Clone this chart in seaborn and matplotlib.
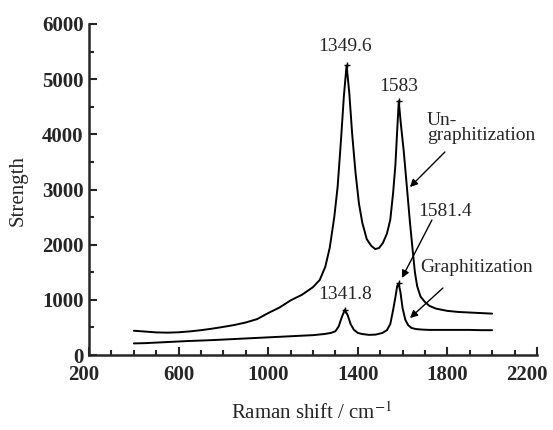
import pandas as pd
import matplotlib
matplotlib.use("Agg")
import matplotlib.pyplot as plt
import matplotlib.transforms as mtransforms
import seaborn as sns
from matplotlib.ticker import MultipleLocator, FixedLocator

# === Data ===
ungraph_x = [400, 450, 500, 550, 600, 650, 700, 750, 800, 850, 900, 950, 1000, 1050,
             1100, 1150, 1200, 1230, 1255, 1275, 1295, 1310, 1325, 1338, 1350, 1362,
             1375, 1390, 1405, 1420, 1440, 1460, 1478, 1495, 1512, 1530, 1545, 1558,
             1568, 1577, 1583, 1592, 1605, 1618, 1633, 1645, 1655, 1665, 1680, 1700,
             1720, 1750, 1800, 1850, 1900, 1950, 2000]
ungraph_y = [440, 425, 410, 405, 412, 428, 450, 478, 510, 545, 590, 650, 760, 860,
             990, 1090, 1230, 1360, 1600, 1950, 2500, 3050, 3900, 4700, 5250, 4750,
             4000, 3300, 2750, 2400, 2100, 1980, 1920, 1940, 2030, 2200, 2450, 2950,
             3450, 4150, 4600, 4200, 3700, 3100, 2400, 1900, 1500, 1250, 1060, 960,
             890, 840, 800, 780, 770, 760, 750]

graph_x = [400, 450, 500, 550, 600, 650, 700, 750, 800, 850, 900, 950, 1000, 1050,
           1100, 1150, 1200, 1250, 1280, 1300, 1315, 1328, 1342, 1355, 1368, 1382,
           1400, 1420, 1450, 1480, 1510, 1530, 1545, 1557, 1568, 1576, 1582, 1590,
           1600, 1612, 1625, 1640, 1660, 1690, 1720, 1760, 1800, 1850, 1900, 1950, 2000]
graph_y = [210, 215, 225, 235, 245, 255, 262, 270, 280, 290, 300, 310, 320, 330,
           340, 350, 360, 380, 400, 430, 520, 680, 820, 720, 560, 460,
           400, 380, 365, 370, 400, 450, 560, 800, 1050, 1250, 1300, 1150,
           850, 640, 540, 490, 470, 460, 455, 455, 455, 455, 455, 450, 450]

peak_x = [1350, 1583, 1342, 1582]
peak_y = [5250, 4600, 820, 1300]
peak_labels = ["1349.6", "1583", "1341.8", "1581.4"]

df = pd.concat([
    pd.DataFrame({"shift": ungraph_x, "strength": ungraph_y, "sample": "Un-graphitization"}),
    pd.DataFrame({"shift": graph_x, "strength": graph_y, "sample": "Graphitization"}),
])

# === Style ===
sns.set_style("ticks")
plt.rcParams["font.family"] = ["Liberation Serif", "DejaVu Serif"]
plt.rcParams["mathtext.fontset"] = "stix"

fig = plt.figure(figsize=(5.53, 4.30), dpi=100)
ax = fig.add_axes([0.161, 0.1744, 0.810, 0.7698])

sns.lineplot(data=df, x="shift", y="strength", hue="sample", units="sample",
             estimator=None, palette=["black", "black"], linewidth=1.4,
             legend=False, ax=ax)
ax.scatter(peak_x, peak_y, marker="+", s=25, color="black", linewidths=1, zorder=3)

ax.set_xlim(200, 2200)
ax.set_ylim(0, 6000)
ax.xaxis.set_major_locator(FixedLocator([200, 600, 1000, 1400, 1800, 2200]))
ax.xaxis.set_minor_locator(MultipleLocator(100))
ax.yaxis.set_major_locator(MultipleLocator(1000))
ax.yaxis.set_minor_locator(MultipleLocator(500))
ax.tick_params(which="major", direction="in", length=6, width=1.5, labelsize=15, pad=4)
ax.tick_params(axis="x", which="major", pad=7)
ax.tick_params(which="minor", direction="in", length=3.5, width=1.5)

sns.despine(ax=ax)
for side in ["left", "bottom"]:
    ax.spines[side].set_linewidth(1.8)

ax.set_xlabel("Raman shift / cm$^{-1}$", fontsize=15)
ax.set_ylabel("Strength", fontsize=15)
ax.xaxis.set_label_coords(0.498, -0.142)
ax.yaxis.set_label_coords(-0.136, 0.498)

# === Annotations ===
ax.text(1343, 5583, peak_labels[0], fontsize=14, ha="center", va="center")
ax.text(1584, 4876, peak_labels[1], fontsize=14, ha="center", va="center")
ax.text(1343, 1088, peak_labels[2], fontsize=14, ha="center", va="center")
ax.text(1789, 2610, peak_labels[3], fontsize=14, ha="center", va="center")
ax.text(1709, 4114, "Un-\ngraphitization", fontsize=14, ha="left", va="center",
        linespacing=0.85)
ax.text(1678, 1595, "Graphitization", fontsize=14, ha="left", va="center")

arrow = dict(arrowstyle="-|>", color="black", lw=1, mutation_scale=11,
             shrinkA=0, shrinkB=0)
ax.annotate("", xy=(1633, 3045), xytext=(1789, 3680), arrowprops=arrow)
ax.annotate("", xy=(1597, 1396), xytext=(1731, 2447), arrowprops=arrow)
ax.annotate("", xy=(1633, 670), xytext=(1780, 1214), arrowprops=arrow)

# draw once so the tick labels exist, then bold them and nudge the corner ones
fig.canvas.draw()
for lab in ax.get_xticklabels() + ax.get_yticklabels():
    lab.set_fontweight("bold")
xlabs = ax.get_xticklabels()
xlabs[0].set_transform(xlabs[0].get_transform() +
                       mtransforms.ScaledTranslation(-0.05, 0, fig.dpi_scale_trans))
xlabs[-1].set_transform(xlabs[-1].get_transform() +
                        mtransforms.ScaledTranslation(-0.10, 0, fig.dpi_scale_trans))
ylabs = ax.get_yticklabels()
ylabs[0].set_transform(ylabs[0].get_transform() +
                       mtransforms.ScaledTranslation(-0.02, 0.05, fig.dpi_scale_trans))

fig.savefig("out.png", dpi=100)
